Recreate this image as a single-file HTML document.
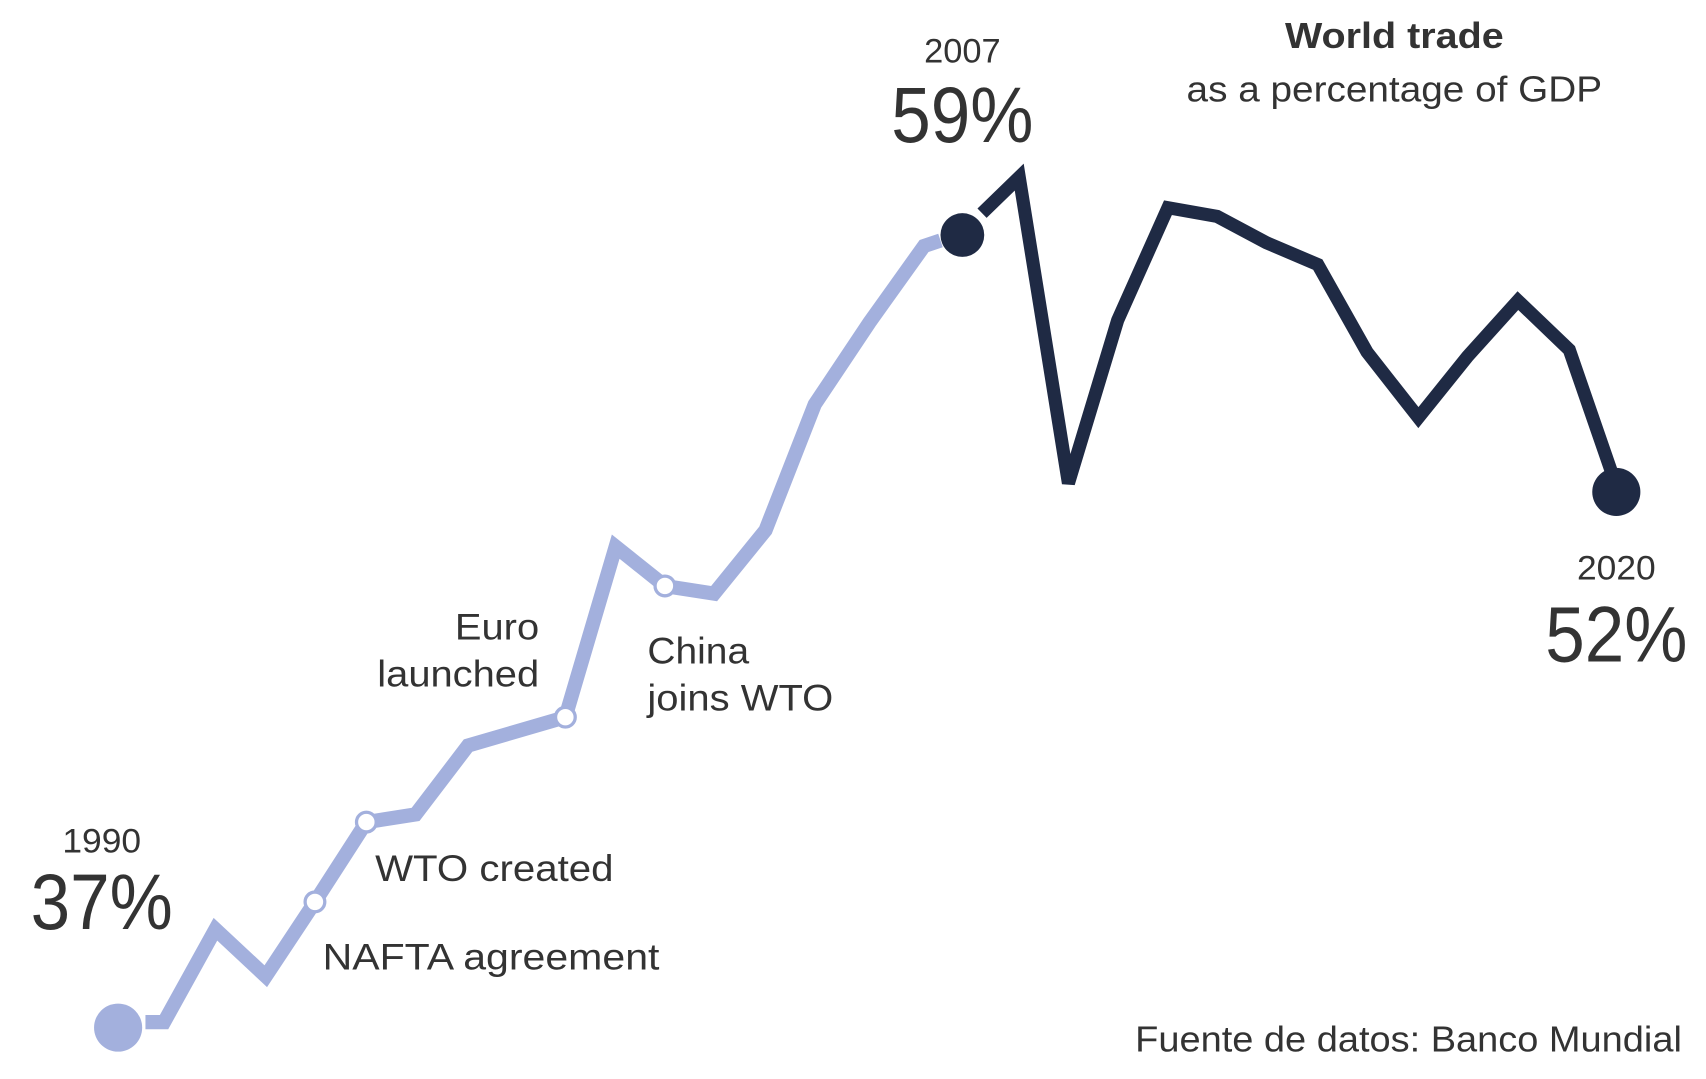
<!DOCTYPE html>
<html><head><meta charset="utf-8"><style>
html,body{margin:0;padding:0;background:#fff;}
svg{display:block;}
text{font-family:"Liberation Sans",sans-serif;fill:#333;}
</style></head><body>
<svg width="1706" height="1079" viewBox="0 0 1560 987" preserveAspectRatio="none" xmlns="http://www.w3.org/2000/svg">
<rect width="1560" height="987" fill="#fff"/>
<polyline fill="none" stroke="#a3b0dd" stroke-width="13" stroke-linejoin="miter" points="133,935 150,935 197,850 243,893 288,825 335,752 380,745 428,682 517,656 563,500 608,536 653,543 700,485 745,370 795,295 845,225 860,220"/>
<circle cx="108" cy="940" r="22" fill="#a3b0dd"/>
<polyline fill="none" stroke="#1f2a44" stroke-width="12" stroke-linejoin="miter" points="898,195 932,162 977,442 1022,293 1068,190 1113,198 1158,222 1205,242 1250,322 1297,382 1342,326 1388,275 1435,320 1473,430"/>
<circle cx="880" cy="215" r="20" fill="#1f2a44"/>
<circle cx="1478" cy="450" r="22" fill="#1f2a44"/>
<g fill="#fff" stroke="#a3b0dd" stroke-width="3">
<circle cx="288" cy="825" r="9"/><circle cx="335" cy="752" r="9"/><circle cx="517" cy="656" r="9"/><circle cx="608" cy="536" r="9"/>
</g>
<g>
<text x="880" y="57" font-size="31" text-anchor="middle" textLength="70" lengthAdjust="spacingAndGlyphs">2007</text>
<text x="880" y="130" font-size="72" text-anchor="middle" textLength="130" lengthAdjust="spacingAndGlyphs">59%</text>
<text x="1275" y="44" font-size="33" font-weight="bold" text-anchor="middle" textLength="200" lengthAdjust="spacingAndGlyphs">World trade</text>
<text x="1275" y="93" font-size="33" text-anchor="middle" textLength="380" lengthAdjust="spacingAndGlyphs">as a percentage of GDP</text>
<text x="93" y="780" font-size="31" text-anchor="middle" textLength="72" lengthAdjust="spacingAndGlyphs">1990</text>
<text x="93" y="850" font-size="72" text-anchor="middle" textLength="130" lengthAdjust="spacingAndGlyphs">37%</text>
<text x="1478" y="530" font-size="31" text-anchor="middle" textLength="72" lengthAdjust="spacingAndGlyphs">2020</text>
<text x="1478" y="605" font-size="72" text-anchor="middle" textLength="130" lengthAdjust="spacingAndGlyphs">52%</text>
<text x="493" y="585" font-size="34" text-anchor="end" textLength="77" lengthAdjust="spacingAndGlyphs">Euro</text>
<text x="493" y="628" font-size="34" text-anchor="end" textLength="148" lengthAdjust="spacingAndGlyphs">launched</text>
<text x="592" y="607" font-size="34" textLength="93" lengthAdjust="spacingAndGlyphs">China</text>
<text x="592" y="650" font-size="34" textLength="170" lengthAdjust="spacingAndGlyphs">joins WTO</text>
<text x="343" y="806" font-size="34" textLength="218" lengthAdjust="spacingAndGlyphs">WTO created</text>
<text x="295" y="887" font-size="34" textLength="308" lengthAdjust="spacingAndGlyphs">NAFTA agreement</text>
<text x="1538" y="962" font-size="33" text-anchor="end" textLength="500" lengthAdjust="spacingAndGlyphs">Fuente de datos: Banco Mundial</text>
</g>
</svg>
</body></html>
